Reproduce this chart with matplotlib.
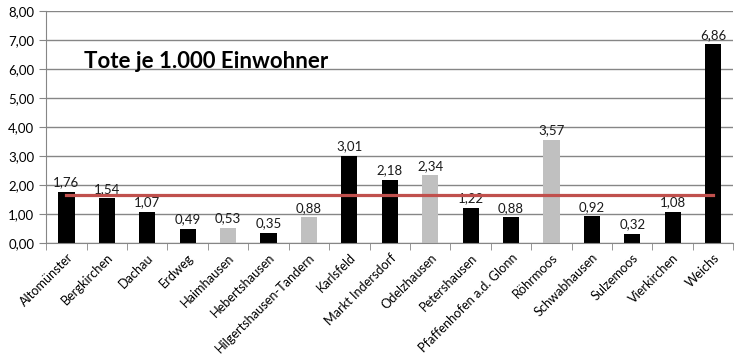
import numpy as np
import matplotlib.pyplot as plt
from matplotlib.ticker import FixedLocator, FuncFormatter

plt.rcParams['font.family'] = ['Lato', 'DejaVu Sans']

gemeinden = ['Altomünster', 'Bergkirchen', 'Dachau', 'Erdweg', 'Haimhausen',
             'Hebertshausen', 'Hilgertshausen-Tandern', 'Karlsfeld',
             'Markt Indersdorf', 'Odelzhausen', 'Petershausen',
             'Pfaffenhofen a.d. Glonn', 'Röhrmoos', 'Schwabhausen',
             'Sulzemoos', 'Vierkirchen', 'Weichs']
tote = [1.76, 1.54, 1.07, 0.49, 0.53, 0.35, 0.88, 3.01, 2.18, 2.34,
        1.22, 0.88, 3.57, 0.92, 0.32, 1.08, 6.86]
grau = ['Haimhausen', 'Hilgertshausen-Tandern', 'Odelzhausen', 'Röhrmoos']
schnitt = 1.65

fig = plt.figure(figsize=(7.46, 3.6), dpi=100)
ax = fig.add_axes([0.062, 0.325, 0.921, 0.644])

x = np.arange(len(gemeinden))
farben = ['#C0C0C0' if g in grau else 'black' for g in gemeinden]
ax.bar(x, tote, width=0.4, color=farben, zorder=2)

for xi, v in zip(x, tote):
    ax.text(xi, v + 0.12, f'{v:.2f}'.replace('.', ','), ha='center', va='bottom',
            fontsize=9.5, color='#1a1a1a', zorder=3)

ax.plot(x, [schnitt] * len(x), color='#C0504D', lw=2.3, zorder=4)

ax.set_xlim(-0.5, len(x) - 0.5)
ax.set_ylim(0, 8)
ax.set_yticks(np.arange(0, 9, 1))
ax.yaxis.set_major_formatter(FuncFormatter(lambda v, p: f'{v:.2f}'.replace('.', ',')))
ax.yaxis.grid(True, color='#868686', lw=1)
ax.set_axisbelow(True)

ax.set_xticks(x)
ax.set_xticklabels(gemeinden, rotation=45, ha='right', rotation_mode='anchor', fontsize=9.2)
ax.tick_params(axis='x', which='major', length=0, pad=6)
ax.xaxis.set_minor_locator(FixedLocator(np.arange(-0.5, len(x), 1)))
ax.tick_params(axis='x', which='minor', length=5, color='#868686')
ax.tick_params(axis='y', length=5, color='#868686', labelsize=9.5)

for s in ['top', 'right']:
    ax.spines[s].set_visible(False)
for s in ['left', 'bottom']:
    ax.spines[s].set_color('#868686')

ax.text(0.055, 0.785, 'Tote je 1.000 Einwohner', transform=ax.transAxes,
        fontsize=16, fontweight='bold', va='center')

fig.savefig('out.png', dpi=100)
